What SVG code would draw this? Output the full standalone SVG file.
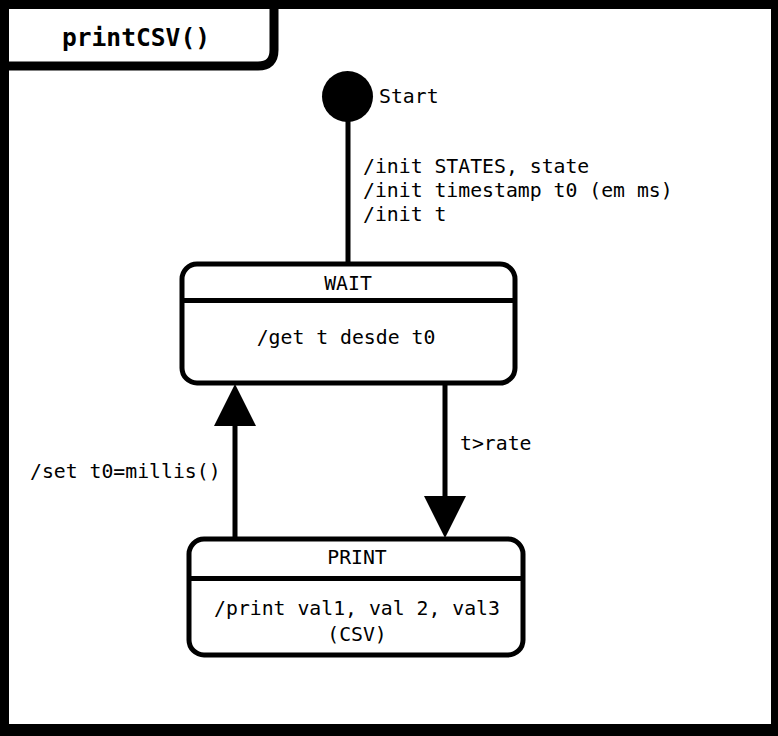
<svg xmlns="http://www.w3.org/2000/svg" width="778" height="736" viewBox="0 0 778 736">
<style>
text{font-family:"DejaVu Sans Mono","Liberation Mono",monospace;font-size:19.8px;fill:#000}
.c{text-anchor:middle}
.title{font-size:24.6px;font-weight:bold}
.box{fill:#fff;stroke:#000;stroke-width:5}
.div{stroke:#000;stroke-width:5}
.edge{stroke:#000;stroke-width:5;fill:none}
</style>
<defs>
<marker id="ah" markerUnits="userSpaceOnUse" markerWidth="42" markerHeight="42" refX="20" refY="20" orient="auto" viewBox="0 0 40 40">
<path d="M0,0 L40,20 L0,40 z" fill="#000"/>
</marker>
</defs>
<g id="frame">
<rect x="0" y="0" width="778" height="736" fill="#000"/>
<rect x="9" y="9" width="762" height="715" fill="#fff"/>
<path d="M0,66 H258 Q274,66 274,50 V0" fill="none" stroke="#000" stroke-width="9"/>
<text class="title c" x="136" y="46">printCSV()</text>
</g>
<g id="connectors">
<line class="edge" x1="348" y1="110" x2="348" y2="264"/>
<line class="edge" x1="235" y1="537" x2="235" y2="405" marker-end="url(#ah)"/>
<line class="edge" x1="445" y1="384" x2="445" y2="517" marker-end="url(#ah)"/>
<text x="363" y="173">/init STATES, state</text>
<text x="363" y="197">/init timestamp t0 (em ms)</text>
<text x="363" y="221">/init t</text>
<text x="460" y="450">t&gt;rate</text>
<text x="30" y="478">/set t0=millis()</text>
</g>
<g id="start">
<circle cx="347.5" cy="96.5" r="25.5" fill="#000"/>
<text x="379" y="103">Start</text>
</g>
<g id="wait">
<rect class="box" x="182" y="264" width="333" height="119" rx="15"/>
<line class="div" x1="182" y1="300.5" x2="515" y2="300.5"/>
<text class="c" x="348" y="290">WAIT</text>
<text class="c" x="346" y="344">/get t desde t0</text>
</g>
<g id="print">
<rect class="box" x="189" y="539" width="334" height="116" rx="15"/>
<line class="div" x1="189" y1="578.5" x2="523" y2="578.5"/>
<text class="c" x="357" y="564">PRINT</text>
<text class="c" x="357" y="615">/print val1, val 2, val3</text>
<text class="c" x="357" y="641">(CSV)</text>
</g>
</svg>
